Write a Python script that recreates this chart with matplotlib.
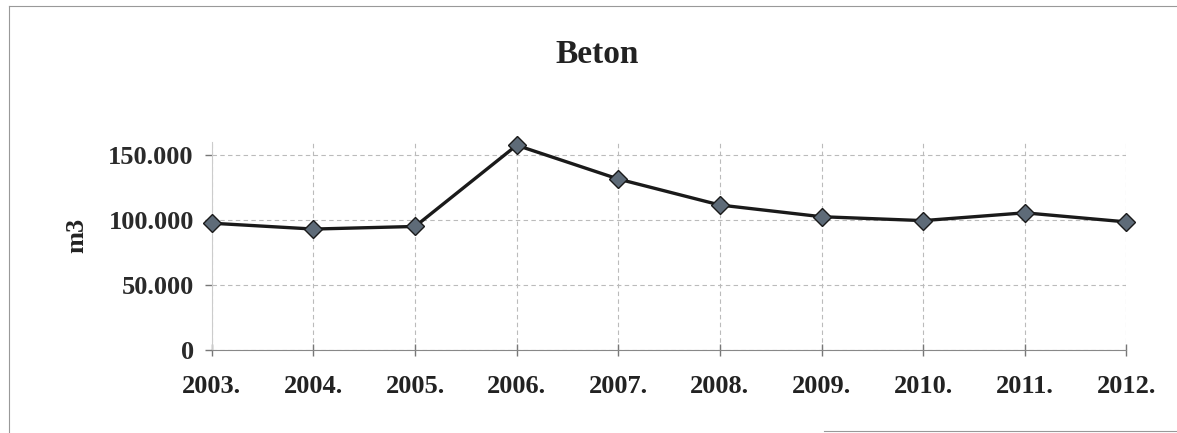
import matplotlib
matplotlib.use("Agg")
import matplotlib.pyplot as plt
from matplotlib.lines import Line2D

years = ["2003.", "2004.", "2005.", "2006.", "2007.", "2008.", "2009.", "2010.", "2011.", "2012."]
beton = [97500, 93000, 95000, 157500, 131500, 111500, 102500, 99500, 105500, 98500]
yticks = [0, 50000, 100000, 150000]
ytick_labels = ["0", "50.000", "100.000", "150.000"]

plt.rcParams['font.family'] = ['Liberation Serif', 'DejaVu Serif']

fig = plt.figure(figsize=(11.77, 4.33), dpi=100)
ax = fig.add_axes([0.180, 0.192, 0.777, 0.480])

x = list(range(len(years)))
ax.plot(x, beton, color="#1a1a1a", linewidth=2.4, marker="D", markersize=9,
        markerfacecolor="#5e6b78", markeredgecolor="#1a1a1a", markeredgewidth=1.0,
        zorder=3, clip_on=False)

ax.set_xlim(0, len(years) - 1)
ax.set_ylim(0, 160000)
ax.set_xticks(x)
ax.set_xticklabels(years, fontsize=19, fontweight="bold", color="#222222")
ax.set_yticks(yticks)
ax.set_yticklabels(ytick_labels, fontsize=19, fontweight="bold", color="#2a2a2a")
ax.tick_params(axis="x", direction="inout", length=8, width=1, color="#777777", pad=14)
ax.tick_params(axis="y", direction="out", length=5, width=1, color="#777777", pad=8)

ax.grid(True, color="#bbbbbb", linestyle=(0, (4, 3)), linewidth=0.8)
ax.set_axisbelow(True)
for side in ["top", "right"]:
    ax.spines[side].set_visible(False)
ax.spines["left"].set_color("#cccccc")
ax.spines["bottom"].set_color("#888888")

ax.set_ylabel("m3", fontsize=19, fontweight="bold", color="#222222", labelpad=12)
ax.yaxis.set_label_coords(-0.135, 0.55)

fig.text(0.507, 0.875, "Beton", ha="center", va="center", fontsize=24,
         fontweight="bold", color="#222222")

# scanned frame around the chart
fig.add_artist(Line2D([0.008, 0.008], [0.0, 0.985], color="#999999", linewidth=0.8))
fig.add_artist(Line2D([0.008, 1.0], [0.985, 0.985], color="#999999", linewidth=0.8))
fig.add_artist(Line2D([0.70, 1.0], [0.004, 0.004], color="#999999", linewidth=0.8))

fig.savefig("out.png", dpi=100)
